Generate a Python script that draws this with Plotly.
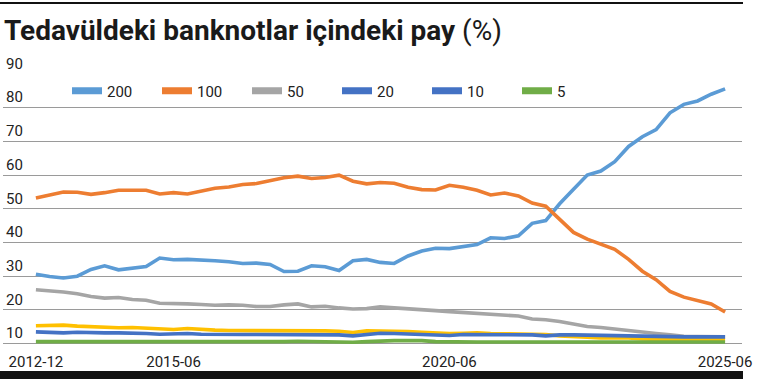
import pandas as pd
import plotly.graph_objects as go

# Quarterly observation dates, 2012-12 .. 2025-06
dates = pd.date_range("2012-12-01", "2025-06-01", freq="3MS")

s200 = [30.6, 29.9, 29.5, 30.0, 32.0, 33.1, 31.9, 32.4, 32.9, 35.4,
        34.9, 35.0, 34.9, 34.6, 34.3, 33.8, 33.9, 33.5, 31.4, 31.5,
        33.1, 32.8, 31.7, 34.6, 35.0, 34.1, 33.8, 36.0, 37.5, 38.3,
        38.2, 38.7, 39.4, 41.4, 41.2, 42.0, 45.7, 46.5, 51.5, 55.8,
        60.0, 61.2, 64.0, 68.5, 71.4, 73.5, 78.5, 81.0, 82.0, 84.0, 85.6]
s100 = [53.2, 54.2, 55.0, 54.9, 54.3, 54.8, 55.5, 55.5, 55.5, 54.4,
        54.8, 54.4, 55.2, 56.1, 56.5, 57.2, 57.5, 58.4, 59.2, 59.7,
        59.0, 59.3, 60.0, 58.2, 57.4, 57.8, 57.6, 56.4, 55.7, 55.6,
        57.0, 56.4, 55.5, 54.1, 54.7, 53.8, 51.7, 50.8, 47.0, 43.0,
        41.0, 39.5, 38.0, 35.0, 31.5, 29.0, 25.5, 23.8, 22.8, 21.8, 19.4]
s50 = [26.0, 25.7, 25.3, 24.8, 24.0, 23.5, 23.7, 23.1, 22.9, 22.0,
       22.0, 21.8, 21.6, 21.4, 21.5, 21.4, 21.0, 21.0, 21.5, 21.8,
       20.9, 21.1, 20.6, 20.3, 20.4, 20.9, 20.6, 20.4, 20.1, 19.8,
       19.5, 19.2, 19.0, 18.6, 18.5, 18.2, 17.3, 17.1, 16.6, 15.9,
       15.1, 14.8, 14.3, 13.8, 13.4, 13.0, 12.6, 12.2, 12.1, 12.0, 12.0]
s20 = [15.3, 15.5, 15.5, 15.2, 15.0, 14.8, 14.7, 14.8, 14.6, 14.3,
       14.2, 14.5, 14.2, 14.0, 13.9, 13.9, 13.8, 13.8, 14.0, 14.0,
       13.9, 13.8, 13.7, 13.3, 13.8, 13.8, 13.7, 13.6, 13.4, 13.2,
       13.0, 13.1, 13.2, 13.0, 12.9, 12.9, 12.8, 12.7, 12.3, 12.0,
       11.9, 11.7, 11.7, 11.7, 11.4, 11.2, 11.2, 11.2, 11.2, 11.2, 11.2]
s10 = [13.5, 13.4, 13.2, 13.4, 13.2, 13.2, 13.2, 13.2, 13.0, 12.8,
       12.9, 13.0, 12.8, 12.7, 12.7, 12.7, 12.7, 12.7, 12.7, 12.7,
       12.7, 12.7, 12.6, 12.3, 12.8, 13.1, 13.0, 12.9, 12.8, 12.7,
       12.4, 12.7, 12.7, 12.7, 12.7, 12.7, 12.6, 12.3, 12.6, 12.6,
       12.5, 12.5, 12.3, 12.2, 12.1, 12.1, 12.0, 12.0, 12.0, 12.0, 12.0]
s5 = [10.6, 10.6, 10.6, 10.6, 10.6, 10.6, 10.6, 10.6, 10.6, 10.6,
      10.6, 10.6, 10.6, 10.6, 10.5, 10.4, 10.4, 10.5, 10.6, 10.7,
      10.6, 10.5, 10.4, 10.4, 10.6, 10.8, 10.9, 10.9, 10.9, 10.6,
      10.5, 10.5, 10.5, 10.5, 10.5, 10.5, 10.5, 10.5, 10.5, 10.5,
      10.5, 10.5, 10.5, 10.5, 10.5, 10.5, 10.5, 10.5, 10.5, 10.5, 10.5]

series_names = ["200", "100", "50", "20", "10", "5"]
series_values = [s200, s100, s50, s20, s10, s5]
line_colors = ["#5B9BD5", "#ED7D31", "#A5A5A5", "#FFC000", "#4472C4", "#70AD47"]
legend_colors = ["#5B9BD5", "#ED7D31", "#A5A5A5", "#4472C4", "#4472C4", "#70AD47"]

x_tickvals = ["2012-12-01", "2015-06-01", "2020-06-01", "2025-06-01"]
x_ticktext = ["2012-12", "2015-06", "2020-06", "2025-06"]
y_tickvals = [10, 20, 30, 40, 50, 60, 70, 80, 90]

COND = "Roboto, sans-serif"

fig = go.Figure()
for name, vals, col in zip(series_names, series_values, line_colors):
    fig.add_trace(go.Scatter(x=dates, y=vals, mode="lines", name=name,
                             line=dict(color=col, width=3.6), showlegend=False))
for name, col in zip(series_names, legend_colors):
    fig.add_trace(go.Scatter(x=[None], y=[None], mode="lines", name=name,
                             line=dict(color=col, width=7), showlegend=True))

W, H = 757, 379
L, R, T, B = 3, 15, 74, 34
ph = H - T - B
pw = W - L - R

fig.update_layout(
    width=W, height=H,
    margin=dict(l=L, r=R, t=T, b=B, pad=0, autoexpand=False),
    paper_bgcolor="white", plot_bgcolor="white",
    title=dict(
        text="<b>Tedavüldeki banknotlar içindeki pay</b> <span style='font-weight:normal'>(%)</span>",
        x=4 / W, xref="container", xanchor="left",
        y=1 - 30 / H, yref="container", yanchor="middle",
        font=dict(family="Roboto, sans-serif", size=28, color="#1a1a1a"),
    ),
    legend=dict(
        orientation="h", x=(67 - L) / pw, xanchor="left",
        y=1 - (91 - T) / ph, yanchor="middle",
        font=dict(family=COND, size=15, color="#222"),
        entrywidth=45, entrywidthmode="pixels",
        bgcolor="rgba(0,0,0,0)", traceorder="normal",
    ),
    xaxis=dict(
        type="date", range=["2012-04-27", "2025-09-21"],
        tickvals=x_tickvals, ticktext=x_ticktext,
        showgrid=False, zeroline=False, showline=False, automargin=False,
        ticks="outside", ticklen=3, tickcolor="rgba(0,0,0,0)",
        tickfont=dict(family=COND, size=15, color="#222"),
    ),
    yaxis=dict(
        range=[9.6, 90.0], tickvals=y_tickvals,
        showgrid=True, gridcolor="#9a9a9a", gridwidth=1,
        zeroline=False, showline=False, automargin=False,
        ticks="", ticklen=0,
        ticklabelposition="inside top", ticklabeloverflow="allow",
        tickfont=dict(family=COND, size=15, color="#222"),
    ),
    shapes=[
        dict(type="rect", xref="paper", yref="paper",
             x0=-L / pw, x1=(743 - L) / pw,
             y0=-(371 - (H - B)) / ph, y1=-(381 - (H - B)) / ph,
             fillcolor="#111", line=dict(width=0), layer="above"),
        dict(type="line", xref="paper", yref="paper",
             x0=-L / pw, x1=(743 - L) / pw,
             y0=((H - B) - 3) / ph, y1=((H - B) - 3) / ph,
             line=dict(color="#111", width=2)),
    ],
)

fig.write_html("out.html",
               config={"displayModeBar": False},
               post_script="document.body.style.margin='0';document.body.style.overflow='hidden';")
